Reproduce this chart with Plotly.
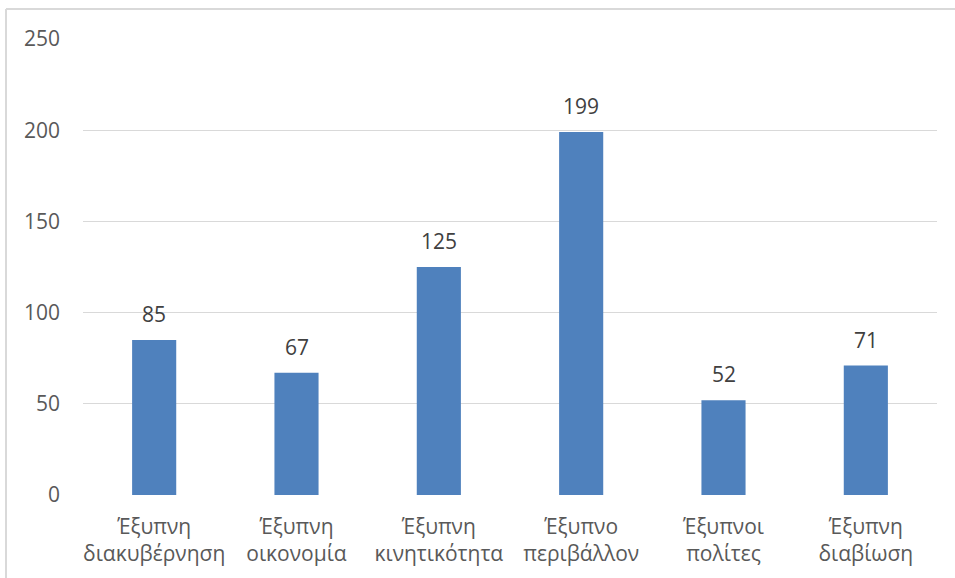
import plotly.graph_objects as go

categories = [
    "Έξυπνη<br>διακυβέρνηση",
    "Έξυπνη<br>οικονομία",
    "Έξυπνη<br>κινητικότητα",
    "Έξυπνο<br>περιβάλλον",
    "Έξυπνοι<br>πολίτες",
    "Έξυπνη<br>διαβίωση",
]
values = [85, 67, 125, 199, 52, 71]
y_ticks = [0, 50, 100, 150, 200, 250]

FONT = "Open Sans, Noto Sans, sans-serif"
TEXT = "#595959"
GRID = "#D9D9D9"
BAR = "#4F81BD"
FS = 21

fig = go.Figure(
    go.Bar(
        x=categories,
        y=values,
        marker=dict(color=BAR, line=dict(width=0)),
        cliponaxis=False,
    )
)

# value labels above each bar
for c, v in zip(categories, values):
    fig.add_annotation(
        x=c, y=v, text=str(v), showarrow=False,
        yanchor="bottom", yshift=10,
        font=dict(family=FONT, size=FS, color="#404040"),
    )

fig.update_layout(
    width=955,
    height=578,
    margin=dict(l=83, r=18, t=39, b=83),
    paper_bgcolor="white",
    plot_bgcolor="white",
    bargap=0.69,
    showlegend=False,
    font=dict(family=FONT, size=FS, color=TEXT),
)

fig.update_yaxes(
    range=[0, 250],
    tickvals=y_ticks,
    showgrid=True,
    gridcolor=GRID,
    gridwidth=1.3,
    zeroline=False,
    showline=False,
    ticks="",
    ticklabelstandoff=22,
    tickfont=dict(family=FONT, size=FS, color=TEXT),
)
fig.update_xaxes(
    showline=False,
    ticks="",
    showgrid=False,
    tickfont=dict(family=FONT, size=FS, color=TEXT),
    tickangle=0,
    ticklabelstandoff=17,
)

# light frame around the chart area (left and top edges)
fig.add_shape(
    type="line", xref="paper", yref="paper",
    x0=(6 - 83) / 854, x1=(6 - 83) / 854,
    y0=(495 - 600) / 456, y1=(495 - 9) / 456,
    line=dict(color=GRID, width=2),
)
fig.add_shape(
    type="line", xref="paper", yref="paper",
    x0=(6 - 83) / 854, x1=(970 - 83) / 854,
    y0=(495 - 9) / 456, y1=(495 - 9) / 456,
    line=dict(color=GRID, width=2),
)

fig.write_html("out.html")
